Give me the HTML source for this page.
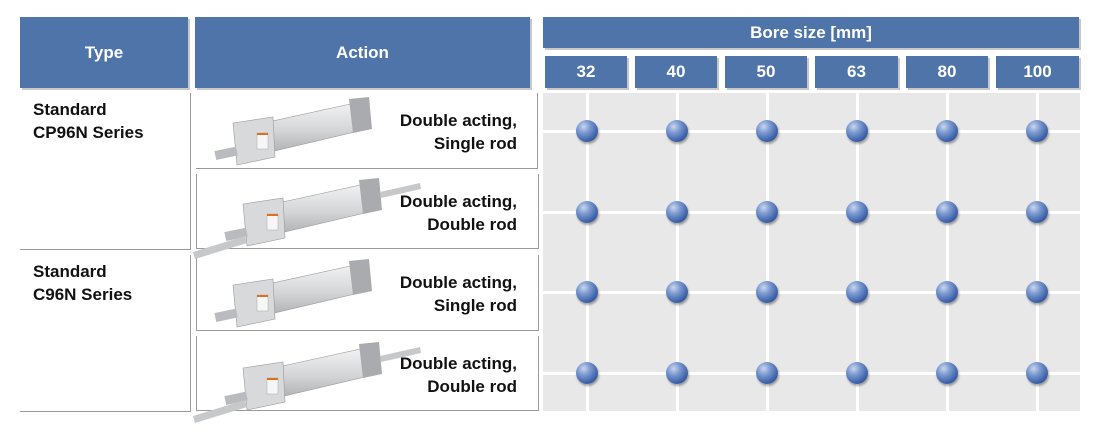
<!DOCTYPE html>
<html><head><meta charset="utf-8"><style>
body{margin:0;width:1100px;height:438px;background:#fff;position:relative;overflow:hidden;font-family:"Liberation Sans",Arial,sans-serif;font-weight:bold}
.h{position:absolute;background:#4e74a9;color:#fff;display:flex;align-items:center;justify-content:center;font-size:17px;box-shadow:2px 2px 0 #c8c8c8}
.t{position:absolute;font-size:17px;color:#111;line-height:23px}
.r{text-align:right}
.ln{position:absolute;background:#9a9a9a}
.grid{position:absolute;left:543px;top:93px;width:537px;height:318px;background:#e8e8e8}
.dot{position:absolute;width:22px;height:22px;border-radius:50%;background:radial-gradient(circle at 35% 30%,#c9d6ee 0,#7d9bd0 30%,#3a5fa8 70%,#1f3f80 100%);box-shadow:1px 2px 2px rgba(0,0,0,.35)}
</style></head><body>
<div class="h" style="left:20px;top:17px;width:168px;height:71px">Type</div>
<div class="h" style="left:195px;top:17px;width:335px;height:71px">Action</div>
<div class="h" style="left:543px;top:17px;width:536px;height:31px">Bore size [mm]</div>
<div class="h" style="left:545px;top:56px;width:82px;height:32px">32</div>
<div class="h" style="left:635px;top:56px;width:82px;height:32px">40</div>
<div class="h" style="left:725px;top:56px;width:82px;height:32px">50</div>
<div class="h" style="left:815px;top:56px;width:83px;height:32px">63</div>
<div class="h" style="left:906px;top:56px;width:82px;height:32px">80</div>
<div class="h" style="left:996px;top:56px;width:83px;height:32px">100</div>

<div class="t" style="left:33px;top:98px">Standard<br>CP96N Series</div>
<div class="t" style="left:33px;top:260px">Standard<br>C96N Series</div>
<div class="ln" style="left:190px;top:93px;width:1px;height:156px"></div>
<div class="ln" style="left:20px;top:249px;width:171px;height:1px"></div>
<div class="ln" style="left:190px;top:255px;width:1px;height:156px"></div>
<div class="ln" style="left:20px;top:411px;width:171px;height:1px"></div>

<div style="position:absolute;left:196px;top:93px;width:341px;height:75px;border-right:1px solid #9a9a9a;border-bottom:1px solid #9a9a9a"></div>
<div style="position:absolute;left:196px;top:174px;width:341px;height:74px;border-left:1px solid #9a9a9a;border-right:1px solid #9a9a9a;border-bottom:1px solid #9a9a9a"></div>
<div style="position:absolute;left:196px;top:255px;width:341px;height:75px;border-left:1px solid #9a9a9a;border-right:1px solid #9a9a9a;border-bottom:1px solid #9a9a9a"></div>
<div style="position:absolute;left:196px;top:336px;width:341px;height:74px;border-left:1px solid #9a9a9a;border-right:1px solid #9a9a9a;border-bottom:1px solid #9a9a9a"></div>

<div class="t r" style="left:370px;top:109px;width:147px">Double acting,<br>Single rod</div>
<div class="t r" style="left:370px;top:190px;width:147px">Double acting,<br>Double rod</div>
<div class="t r" style="left:370px;top:271px;width:147px">Double acting,<br>Single rod</div>
<div class="t r" style="left:370px;top:352px;width:147px">Double acting,<br>Double rod</div>

<svg style="position:absolute;left:0;top:0" width="1100" height="438">
<defs>
<linearGradient id="b" x1="0" y1="0" x2="0" y2="1"><stop offset="0" stop-color="#f2f2f2"/><stop offset=".5" stop-color="#d4d6d8"/><stop offset="1" stop-color="#a8aaad"/></linearGradient>
<g id="cyl">
<polygon points="20,22 130,-2 134,26 24,52" fill="url(#b)" stroke="#999" stroke-width=".6"/>
<polygon points="124,-6 144,-8 147,24 128,28" fill="#a9abae"/>
<polygon points="8,18 48,12 50,52 12,60" fill="#d8d9db" stroke="#999" stroke-width=".6"/>
<rect x="32" y="28" width="11" height="16" fill="#f6f6f6" stroke="#aaa" stroke-width=".5"/>
<rect x="32" y="28" width="11" height="2" fill="#e07020"/>
<rect x="-10" y="44" width="22" height="9" fill="#b9bbbe" transform="rotate(-12 0 48)"/>
</g>
<g id="cyl2">
<use href="#cyl"/>
<polygon points="145,6 185,-3 186,3 146,12" fill="#c6c8ca"/>
<polygon points="-42,66 10,50 12,57 -40,73" fill="#c6c8ca"/>
</g>
</defs>
<use href="#cyl" x="225" y="105"/>
<use href="#cyl2" x="235" y="186"/>
<use href="#cyl" x="225" y="267"/>
<use href="#cyl2" x="235" y="350"/>
</svg>

<div class="grid">
<div style="position:absolute;left:0;top:37px;width:537px;height:3px;background:#fff"></div>
<div style="position:absolute;left:0;top:118px;width:537px;height:3px;background:#fff"></div>
<div style="position:absolute;left:0;top:198px;width:537px;height:3px;background:#fff"></div>
<div style="position:absolute;left:0;top:279px;width:537px;height:3px;background:#fff"></div>
<div style="position:absolute;left:43px;top:0;width:3px;height:318px;background:#fff"></div>
<div style="position:absolute;left:133px;top:0;width:3px;height:318px;background:#fff"></div>
<div style="position:absolute;left:223px;top:0;width:3px;height:318px;background:#fff"></div>
<div style="position:absolute;left:313px;top:0;width:3px;height:318px;background:#fff"></div>
<div style="position:absolute;left:403px;top:0;width:3px;height:318px;background:#fff"></div>
<div style="position:absolute;left:493px;top:0;width:3px;height:318px;background:#fff"></div>
</div>
<div class="dot" style="left:576px;top:120px"></div><div class="dot" style="left:666px;top:120px"></div><div class="dot" style="left:756px;top:120px"></div><div class="dot" style="left:846px;top:120px"></div><div class="dot" style="left:936px;top:120px"></div><div class="dot" style="left:1026px;top:120px"></div>
<div class="dot" style="left:576px;top:201px"></div><div class="dot" style="left:666px;top:201px"></div><div class="dot" style="left:756px;top:201px"></div><div class="dot" style="left:846px;top:201px"></div><div class="dot" style="left:936px;top:201px"></div><div class="dot" style="left:1026px;top:201px"></div>
<div class="dot" style="left:576px;top:281px"></div><div class="dot" style="left:666px;top:281px"></div><div class="dot" style="left:756px;top:281px"></div><div class="dot" style="left:846px;top:281px"></div><div class="dot" style="left:936px;top:281px"></div><div class="dot" style="left:1026px;top:281px"></div>
<div class="dot" style="left:576px;top:362px"></div><div class="dot" style="left:666px;top:362px"></div><div class="dot" style="left:756px;top:362px"></div><div class="dot" style="left:846px;top:362px"></div><div class="dot" style="left:936px;top:362px"></div><div class="dot" style="left:1026px;top:362px"></div>
</body></html>
